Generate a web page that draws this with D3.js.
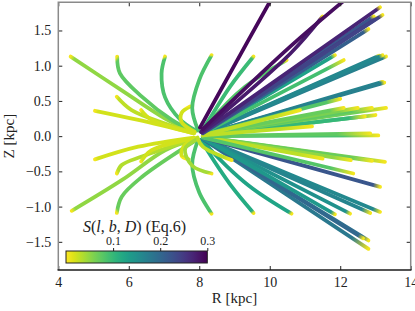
<!DOCTYPE html>
<html>
<head>
<meta charset="utf-8">
<script src="https://cdn.jsdelivr.net/npm/d3@7"></script>
<style>
  body { margin: 0; background: #fff; }
  text { font-family: "Liberation Serif", serif; fill: #222; }
</style>
</head>
<body>
<div id="chart"></div>
<script>
// sightlines in the (R, Z) plane, kpc
var paths = [
	[[7.85,0.05],[7.03,0.25],[5.8,0.65],[4.35,1.13]],
	[[7.85,0.06],[7.22,0.23],[6.37,0.56],[5.75,0.89],[5.67,1.13]],
	[[7.9,0.08],[7.45,0.24],[7.03,0.55],[6.93,0.89],[7.03,1.13]],
	[[7.85,-0.05],[7.03,-0.2],[5.8,-0.625],[4.38,-1.06]],
	[[7.9,-0.06],[6.37,-0.58],[5.8,-0.86],[5.66,-1.09]],
	[[7.85,-0.04],[6.37,-0.29],[5.8,-0.41],[5.66,-0.53]],
	[[7.85,-0.02],[6.27,-0.15],[5.04,-0.33]],
	[[7.85,-0.03],[6.65,-0.2],[6.35,-0.36]],
	[[7.85,0.05],[7.03,0.18],[6.08,0.37],[5.66,0.56]],
	[[7.85,0.04],[6.27,0.23],[5.04,0.36]],
	[[7.85,0.04],[6.65,0.23],[6.35,0.37]],
	[[7.88,0.06],[7.5,0.2],[7.5,0.33],[7.74,0.42]],
	[[7.9,-0.03],[7.55,-0.15],[7.5,-0.28],[7.7,-0.33]],
	[[7.97,-0.05],[7.8,-0.4],[8.0,-0.8],[8.35,-1.10]],
	[[8.05,-0.05],[8.2,-0.18],[8.87,-0.68],[9.54,-1.09]],
	[[8.1,-0.04],[8.3,-0.18],[9.4,-0.7],[10.62,-1.1]],
	[[8.1,-0.04],[12.8,-1.48]],
	[[8.1,-0.04],[12.8,-1.60]],
	[[8.1,-0.04],[12.65,-1.45]],
	[[8.1,-0.03],[13.13,-1.075]],
	[[8.1,-0.03],[12.85,-1.09]],
	[[8.1,-0.03],[12.28,-1.10]],
	[[8.1,-0.03],[11.85,-1.11]],
	[[8.1,-0.02],[13.13,-0.72]],
	[[8.1,-0.01],[13.27,-0.365]],
	[[8.1,-0.01],[12.9,-0.35]],
	[[8.1,-0.01],[12.3,-0.34]],
	[[8.1,-0.01],[11.5,-0.32]],
	[[8.1,-0.02],[12.37,-0.53]],
	[[8.1,0.02],[13.2,0.77]],
	[[8.1,0.02],[13.25,0.76]],
	[[8.1,0.03],[13.1,1.14]],
	[[8.1,0.03],[13.3,1.13]],
	[[8.1,0.03],[13.2,1.15]],
	[[8.1,0.04],[11.85,1.15]],
	[[8.1,0.02],[12.0,0.53]],
	[[8.1,0.04],[12.1,1.08]],
	[[8.1,0.0],[13.08,0.01]],
	[[8.1,0.0],[12.85,0.04]],
	[[8.1,0.01],[13.0,0.30]],
	[[8.1,0.01],[12.7,0.28]],
	[[8.1,0.02],[13.3,0.40]],
	[[8.1,0.02],[12.9,0.40]],
	[[8.1,0.02],[12.5,0.40]],
	[[8.1,0.02],[12.1,0.40]],
	[[8.1,0.01],[10.86,0.37]],
	[[8.1,0.01],[11.2,0.14]],
	[[7.95,-0.04],[7.6,-0.18],[7.8,-0.42],[8.35,-0.53]],
	[[7.95,-0.02],[8.1,-0.15],[8.92,-0.34]],
	[[7.97,0.08],[7.8,0.4],[8.0,0.8],[8.35,1.15]],
	[[8.05,0.06],[8.21,0.18],[8.87,0.7],[9.54,1.13]],
	[[8.1,0.06],[8.3,0.2],[9.3,0.7],[10.48,1.08]],
	[[8.1,0.04],[12.8,1.52]],
	[[8.1,0.05],[12.95,1.70]],
	[[8.1,0.05],[13.05,1.68]],
	[[8.1,0.05],[13.2,1.72]],
	[[8.1,0.06],[13.13,1.83]],
	[[8.05,0.06],[10.58,1.17],[11.5,1.70]],
	[[8.1,0.1],[10.58,1.27],[12.1,1.92]],
	[[8.02,0.12],[8.97,0.98],[10.05,1.95]]
];

// S(l,b,D) of each sightline
var sVal = [
	0.05,0.075,0.085,0.05,0.07,0.035,0.02,0.02,0.03,0.02,0.02,0.02,0.02,
	0.085,0.115,0.125,
	0.19,0.18,0.2,0.16,0.165,0.15,0.14,0.22,
	0.06,0.07,0.05,0.03,0.08,
	0.165,0.17,0.165,0.17,0.16,0.13,0.08,0.09,
	0.085,0.075,0.08,0.1,0.065,0.075,0.06,0.07,0.03,0.03,
	0.04,0.03,
	0.085,0.095,0.08,
	0.21,0.22,0.25,0.24,0.27,
	0.28,0.29,0.295
];

// part of each sightline (from the far end) where S drops to ~0
var tipFrac = [
	0.03,0.03,0.03,0.03,0.03,0.03,0.03,0.03,0.03,0.03,0.03,0.03,0.03,
	0.03,0.03,0.03,
	0.04,0.1,0.03,0.04,0.05,0.03,0.03,0.04,
	0.15,0.12,0.12,0.2,0.15,
	0.02,0.02,0.02,0.02,0.02,0.03,0.1,0.12,
	0.2,0.2,0.1,0.1,0.15,0.12,0.12,0.1,0.3,0.3,
	0.05,0.2,
	0.03,0.03,0.06,
	0.03,0.02,0.02,0.02,0.02,
	0.03,0,0
];

var xTicks = [4, 6, 8, 10, 12, 14];
var yTicks = [-1.5, -1.0, -0.5, 0.0, 0.5, 1.0, 1.5];
var cbarTicks = [0.1, 0.2, 0.3];

var W = 415, H = 311;
var svg = d3.select("#chart").append("svg")
	.attr("width", W).attr("height", H);

var x = d3.scaleLinear().domain([4, 14]).range([58.3, 410.7]);
var y = d3.scaleLinear().domain([-1.9, 1.9]).range([270, 2.3]);
var cmap = s => d3.interpolateViridis(1 - s / 0.3);

var defs = svg.append("defs");
defs.append("clipPath").attr("id", "plotclip")
	.append("rect")
	.attr("x", x(4)).attr("y", y(1.9))
	.attr("width", x(14) - x(4)).attr("height", y(-1.9) - y(1.9));

// one gradient per sightline, yellow at the far end
paths.forEach(function(p, i) {
	var a = p[0], b = p[p.length - 1];
	var g = defs.append("linearGradient")
		.attr("id", "sl" + i)
		.attr("gradientUnits", "userSpaceOnUse")
		.attr("x1", x(a[0])).attr("y1", y(a[1]))
		.attr("x2", x(b[0])).attr("y2", y(b[1]));
	var c = cmap(sVal[i]);
	g.append("stop").attr("offset", 0).attr("stop-color", c);
	g.append("stop").attr("offset", 1 - tipFrac[i]).attr("stop-color", c);
	g.append("stop").attr("offset", 1).attr("stop-color", cmap(0.005));
});

var line = d3.line()
	.x(d => x(d[0]))
	.y(d => y(d[1]))
	.curve(d3.curveCatmullRom.alpha(0.5));

svg.append("g")
	.attr("clip-path", "url(#plotclip)")
	.selectAll("path")
	.data(paths)
	.enter()
	.append("path")
	.attr("d", line)
	.attr("fill", "none")
	.attr("stroke", (d, i) => "url(#sl" + i + ")")
	.attr("stroke-width", 3.8)
	.attr("stroke-linecap", "round")
	.attr("stroke-linejoin", "round");

// axes, ticks pointing inwards on all four sides
var fmtY = d3.format(".1f");
var axBottom = svg.append("g")
	.attr("transform", "translate(0," + y(-1.9) + ")")
	.call(d3.axisBottom(x).tickValues(xTicks).tickSize(-4).tickPadding(7));
var axTop = svg.append("g")
	.attr("transform", "translate(0," + y(1.9) + ")")
	.call(d3.axisTop(x).tickValues(xTicks).tickSize(-4).tickFormat(""));
var axLeft = svg.append("g")
	.attr("transform", "translate(" + x(4) + ",0)")
	.call(d3.axisLeft(y).tickValues(yTicks).tickSize(-4).tickPadding(7).tickFormat(fmtY));
var axRight = svg.append("g")
	.attr("transform", "translate(" + x(14) + ",0)")
	.call(d3.axisRight(y).tickValues(yTicks).tickSize(-4).tickFormat(""));

[axBottom, axTop, axLeft, axRight].forEach(function(ax) {
	ax.select(".domain").remove();
	ax.selectAll("line").attr("stroke", "#222").attr("stroke-width", 1);
	ax.selectAll("text")
		.attr("fill", "#222")
		.style("font-family", "Liberation Serif")
		.style("font-size", "14px");
});

// spines: grey frame, dark bottom
var spine = svg.append("g").attr("fill", "none").attr("stroke-width", 1.5);
spine.append("path")
	.attr("d", "M" + x(4) + "," + y(-1.9) + "V" + y(1.9) + "H" + x(14) + "V" + y(-1.9))
	.attr("stroke", "#8a8a8a");
spine.append("line")
	.attr("x1", x(4) - 0.75).attr("x2", x(14) + 0.75)
	.attr("y1", y(-1.9)).attr("y2", y(-1.9))
	.attr("stroke", "#1a1a1a");

svg.append("text")
	.attr("x", (x(4) + x(14)) / 2).attr("y", 303)
	.attr("text-anchor", "middle")
	.style("font-size", "15px")
	.text("R [kpc]");
svg.append("text")
	.attr("transform", "translate(14," + y(0) + ")rotate(-90)")
	.attr("text-anchor", "middle")
	.style("font-size", "15px")
	.text("Z [kpc]");

// colour bar inset
var cx = d3.scaleLinear().domain([0, 0.3]).range([66, 207.3]);
var cg = defs.append("linearGradient").attr("id", "cbar");
d3.range(0, 1.0001, 0.05).forEach(function(t) {
	cg.append("stop").attr("offset", t).attr("stop-color", cmap(t * 0.3));
});
svg.append("rect")
	.attr("x", cx(0)).attr("y", 251)
	.attr("width", cx(0.3) - cx(0)).attr("height", 12)
	.attr("fill", "url(#cbar)")
	.attr("stroke", "#222").attr("stroke-width", 1);
var cax = svg.append("g")
	.attr("transform", "translate(0,251)")
	.call(d3.axisTop(cx).tickValues(cbarTicks).tickSize(3).tickPadding(3).tickFormat(d3.format(".1f")));
cax.select(".domain").remove();
cax.selectAll("line").attr("stroke", "#222");
cax.selectAll("text").attr("fill", "#222")
	.style("font-family", "Liberation Serif").style("font-size", "12px");

var lab = svg.append("text")
	.attr("x", 83).attr("y", 232)
	.style("font-size", "16px");
lab.append("tspan").style("font-style", "italic").text("S");
lab.append("tspan").text("(");
lab.append("tspan").style("font-style", "italic").text("l");
lab.append("tspan").text(", ");
lab.append("tspan").style("font-style", "italic").text("b");
lab.append("tspan").text(", ");
lab.append("tspan").style("font-style", "italic").text("D");
lab.append("tspan").text(") (Eq.6)");
</script>
</body>
</html>
